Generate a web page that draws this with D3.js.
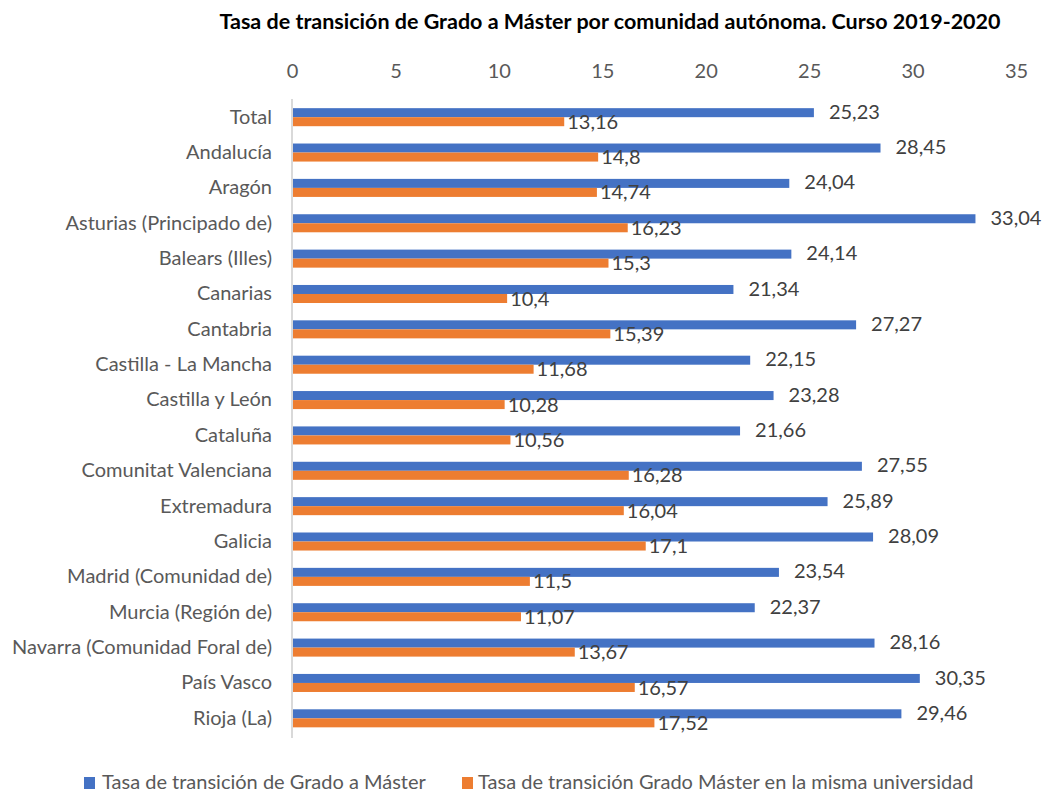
<!DOCTYPE html>
<html><head><meta charset="utf-8">
<script src="https://cdn.jsdelivr.net/npm/d3@7"></script>
<style>body{margin:0;background:#fff;} svg{display:block;font-family:Lato,"Open Sans",sans-serif;}</style>
</head><body>
<svg id="c" width="1042" height="794"></svg>
<script>
const categories = ["Total","Andalucía","Aragón","Asturias (Principado de)","Balears (Illes)","Canarias","Cantabria","Castilla - La Mancha","Castilla y León","Cataluña","Comunitat Valenciana","Extremadura","Galicia","Madrid (Comunidad de)","Murcia (Región de)","Navarra (Comunidad Foral de)","País Vasco","Rioja (La)"];
const tasaGradoMaster = [25.23,28.45,24.04,33.04,24.14,21.34,27.27,22.15,23.28,21.66,27.55,25.89,28.09,23.54,22.37,28.16,30.35,29.46];
const tasaMismaUniv = [13.16,14.8,14.74,16.23,15.3,10.4,15.39,11.68,10.28,10.56,16.28,16.04,17.1,11.5,11.07,13.67,16.57,17.52];
const xTicks = [0,5,10,15,20,25,30,35];
const seriesNames = ["Tasa de transición de Grado a Máster","Tasa de transición Grado Máster en la misma universidad"];
const colors = ["#4472C4","#ED7D31"];

const svg = d3.select("#c");
const x = d3.scaleLinear().domain([0,35]).range([292,1016]);
const y = d3.scaleBand().domain(categories).range([99.5,736]).paddingInner(0.49).paddingOuter(0.245);
const fmt = v => String(v).replace(".",",");
const FS = 20;

svg.append("text").attr("x",610).attr("y",29).attr("text-anchor","middle")
  .attr("font-weight","bold").attr("font-size",21.5).attr("fill","#000")
  .text("Tasa de transición de Grado a Máster por comunidad autónoma. Curso 2019-2020");

const ax = svg.append("g").attr("transform","translate(0,78)")
  .call(d3.axisTop(x).tickValues(xTicks).tickSize(0).tickPadding(0).tickFormat(d=>d));
ax.select(".domain").remove();
ax.selectAll("text").attr("font-size",FS).attr("fill","#595959").attr("font-family","Lato,'Open Sans',sans-serif");

const ay = svg.append("g").attr("transform","translate(292,0)")
  .call(d3.axisLeft(y).tickSize(0).tickPadding(20));
ay.select(".domain").attr("stroke","#d9d9d9").attr("stroke-width",2).attr("d","M0,99V738");
ay.selectAll("text").attr("font-size",FS).attr("fill","#595959").attr("font-family","Lato,'Open Sans',sans-serif");

const bh = y.bandwidth()/2;
const g = svg.append("g");
const rows = categories.map((c,i)=>({c, a:tasaGradoMaster[i], b:tasaMismaUniv[i]}));
g.selectAll("rect.a").data(rows).join("rect").attr("class","a")
  .attr("x",x(0)+1).attr("y",d=>y(d.c)).attr("height",bh).attr("width",d=>x(d.a)-x(0)-1).attr("fill",colors[0]);
g.selectAll("rect.b").data(rows).join("rect").attr("class","b")
  .attr("x",x(0)+1).attr("y",d=>y(d.c)+bh).attr("height",bh).attr("width",d=>x(d.b)-x(0)-1).attr("fill",colors[1]);
g.selectAll("text.a").data(rows).join("text").attr("class","a")
  .attr("x",d=>x(d.a)+15).attr("y",d=>y(d.c)+bh/2+1).attr("dominant-baseline","middle")
  .attr("font-size",FS).attr("fill","#404040").text(d=>fmt(d.a));
g.selectAll("text.b").data(rows).join("text").attr("class","b")
  .attr("x",d=>x(d.b)+3).attr("y",d=>y(d.c)+bh*1.5+2).attr("dominant-baseline","middle")
  .attr("font-size",FS).attr("fill","#404040").text(d=>fmt(d.b));

const leg = svg.append("g");
const legX = [84,462];
const legTx = [102,478];
seriesNames.forEach((n,i)=>{
  leg.append("rect").attr("x",legX[i]).attr("y",777).attr("width",11).attr("height",12).attr("fill",colors[i]);
  leg.append("text").attr("x",legTx[i]).attr("y",789)
    .attr("font-size",FS).attr("fill","#595959").text(n);
});
</script>
</body></html>
